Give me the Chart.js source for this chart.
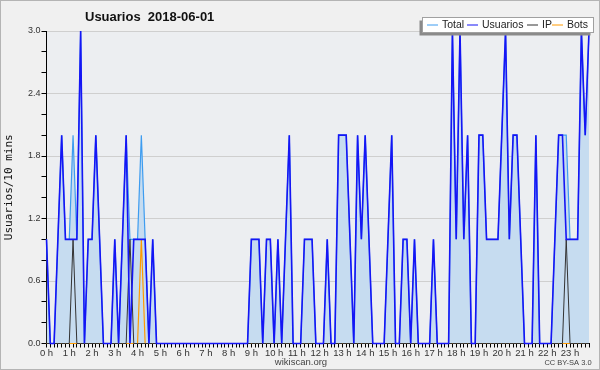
<!DOCTYPE html>
<html>
<head>
<meta charset="utf-8">
<script src="https://cdn.jsdelivr.net/npm/chart.js"></script>
<style>
  html, body { margin: 0; padding: 0; background: #f0f0f0; }
  #wrap { width: 600px; height: 370px; }
</style>
</head>
<body>
<div id="wrap"><canvas id="chart" width="600" height="370"></canvas></div>
<script>
// one slot every 10 minutes, 0 h .. 23:50
const slots = Array.from({ length: 144 }, (_, i) => i);

const usuarios = [
  1,0,0,1,2,1,1,1,1,3, 0,1,1,2,1,0,0,0,1,0, 1,2,0,1,1,1,1,0,1,0,
  0,0,0,0,0,0,0,0,0,0, 0,0,0,0,0,0,0,0,0,0, 0,0,0,0,1,1,1,0,1,1,
  0,1,0,1,2,0,0,0,1,1, 1,0,0,0,1,0,0,2,2,2, 1,0,2,1,2,1,0,0,0,0,
  1,2,0,0,1,1,0,1,0,0, 0,0,1,0,0,0,0,3,1,3, 1,2,0,0,2,2,1,1,1,1,
  2,3,1,2,2,1,0,0,0,2, 0,0,0,0,1,2,2,1,1,1, 1,3,2,3
];
const ip = [
  0,0,0,0,0,0,0,1,0,0, 0,0,0,0,0,0,0,0,0,0, 0,0,1,0,0,0,0,0,0,0,
  0,0,0,0,0,0,0,0,0,0, 0,0,0,0,0,0,0,0,0,0, 0,0,0,0,0,0,0,0,0,0,
  0,0,0,0,0,0,0,0,0,0, 0,0,0,0,0,0,0,0,0,0, 0,0,0,0,0,0,0,0,0,0,
  0,0,0,0,0,0,0,0,0,0, 0,0,0,0,0,0,0,0,0,0, 0,0,0,0,0,0,0,0,0,0,
  0,0,0,0,0,0,0,0,0,0, 0,0,0,0,0,0,0,1,0,0, 0,0,0,0
];
const bots = [
  0,0,0,0,0,0,0,0,0,0, 0,0,0,0,0,0,0,0,0,0, 0,0,0,0,0,1,0,0,0,0,
  0,0,0,0,0,0,0,0,0,0, 0,0,0,0,0,0,0,0,0,0, 0,0,0,0,0,0,0,0,0,0,
  0,0,0,0,0,0,0,0,0,0, 0,0,0,0,0,0,0,0,0,0, 0,0,0,0,0,0,0,0,0,0,
  0,0,0,0,0,0,0,0,0,0, 0,0,0,0,0,0,0,0,0,0, 0,0,0,0,0,0,0,0,0,0,
  0,0,0,0,0,0,0,0,0,0, 0,0,0,0,0,0,0,0,0,0, 0,0,0,0
];
const total = [
  1,0,0,1,2,1,1,2,1,3, 0,1,1,2,1,0,0,0,1,0, 1,2,1,1,1,2,1,0,1,0,
  0,0,0,0,0,0,0,0,0,0, 0,0,0,0,0,0,0,0,0,0, 0,0,0,0,1,1,1,0,1,1,
  0,1,0,1,2,0,0,0,1,1, 1,0,0,0,1,0,0,2,2,2, 1,0,2,1,2,1,0,0,0,0,
  1,2,0,0,1,1,0,1,0,0, 0,0,1,0,0,0,0,3,1,3, 1,2,0,0,2,2,1,1,1,1,
  2,3,1,2,2,1,0,0,0,2, 0,0,0,0,1,2,2,2,1,1, 1,3,2,3
];

const legendItems = [
  { label: 'Total', color: '#3d9cf0', x: 427 },
  { label: 'Usuarios', color: '#1515f5', x: 467 },
  { label: 'IP', color: '#333333', x: 527 },
  { label: 'Bots', color: '#ff9a00', x: 552 }
];

const frame = {
  id: 'frame',
  beforeDraw(chart) {
    const c = chart.ctx, a = chart.chartArea;
    c.save();
    c.fillStyle = '#f0f0f0';
    c.fillRect(0, 0, chart.width, chart.height);
    c.strokeStyle = '#b4b4b4';
    c.strokeRect(0.5, 0.5, chart.width - 1, chart.height - 1);
    c.fillStyle = '#eceef1';
    c.fillRect(a.left, a.top, a.right - a.left, a.bottom - a.top);
    c.restore();
  },
  afterDraw(chart) {
    const c = chart.ctx, a = chart.chartArea;
    c.save();
    // title
    c.fillStyle = '#111';
    c.font = 'bold 13px "Liberation Sans"';
    c.textBaseline = 'alphabetic';
    c.fillText('Usuarios  2018-06-01', 85, 21);

    // y axis title
    c.save();
    c.translate(12, (a.top + a.bottom) / 2);
    c.rotate(-Math.PI / 2);
    c.textAlign = 'center';
    c.font = '11px "DejaVu Sans Mono"';
    c.fillStyle = '#111';
    c.fillText('Usuarios/10 mins', 0, 0);
    c.restore();

    // footer
    c.textAlign = 'center';
    c.fillStyle = '#444';
    c.font = '9.5px "Liberation Sans"';
    c.fillText('wikiscan.org', 301, 365);
    c.font = '7.5px "Liberation Sans"';
    c.fillText('CC BY-SA 3.0', 568, 365);

    // legend box with shadow
    const bx = 422.5, by = 17.5, bw = 171, bh = 15;
    c.fillStyle = '#8a8a8a';
    c.fillRect(bx - 3, by + 3, bw, bh);
    c.fillStyle = '#ffffff';
    c.fillRect(bx, by, bw, bh);
    c.strokeStyle = '#a0a0a0';
    c.lineWidth = 1;
    c.strokeRect(bx, by, bw, bh);
    c.font = '10.5px "Liberation Sans"';
    c.textAlign = 'left';
    c.textBaseline = 'middle';
    legendItems.forEach(it => {
      c.strokeStyle = it.color;
      c.beginPath();
      c.moveTo(it.x, by + 7.5);
      c.lineTo(it.x + 11, by + 7.5);
      c.stroke();
      c.fillStyle = '#222';
      c.fillText(it.label, it.x + 15, by + 8);
    });
    c.restore();
  }
};

new Chart(document.getElementById('chart'), {
  type: 'line',
  data: {
    labels: slots,
    datasets: [
      { label: 'Usuarios', data: usuarios, borderColor: '#1515f5', borderWidth: 1.6, order: 0 },
      { label: 'IP', data: ip, borderColor: '#333333', borderWidth: 1, order: 1 },
      { label: 'Bots', data: bots, borderColor: '#ff9a00', borderWidth: 1.2, order: 2 },
      { label: 'Total', data: total, borderColor: '#3d9cf0', borderWidth: 1.2,
        fill: 'origin', backgroundColor: '#c6dcf0', order: 3 }
    ]
  },
  options: {
    responsive: false,
    animation: false,
    devicePixelRatio: 1,
    layout: { padding: { top: 31, right: 11, bottom: 0, left: 0 } },
    elements: { point: { radius: 0 }, line: { tension: 0 } },
    datasets: { line: { clip: 3 } },
    plugins: { legend: { display: false }, title: { display: false }, tooltip: { enabled: false } },
    scales: {
      x: {
        type: 'category',
        offset: false,
        afterFit: s => { s.height = 26.5; },
        border: { color: '#000', width: 1 },
        grid: { drawOnChartArea: false, tickColor: '#000', tickLength: 4 },
        ticks: {
          autoSkip: false, maxRotation: 0, padding: 0,
          color: '#333', font: { family: 'Liberation Sans', size: 9.5 },
          callback: (v, i) => (i % 6 === 0 ? (i / 6) + ' h' : '')
        }
      },
      y: {
        min: 0, max: 3,
        afterFit: s => { s.width = 46.5; },
        border: { color: '#000', width: 1 },
        grid: {
          color: ctx => (ctx.tick && ctx.tick.value > 0 && Math.round(ctx.tick.value * 10) % 6 === 0) ? '#cfcfcf' : 'rgba(0,0,0,0)',
          tickColor: '#000', tickLength: 5
        },
        ticks: {
          stepSize: 0.2, padding: 1,
          color: '#333', font: { family: 'Liberation Sans', size: 9 },
          callback: v => (Math.round(v * 10) % 6 === 0 ? v.toFixed(1) : '')
        }
      }
    }
  },
  plugins: [frame]
});
</script>
</body>
</html>
